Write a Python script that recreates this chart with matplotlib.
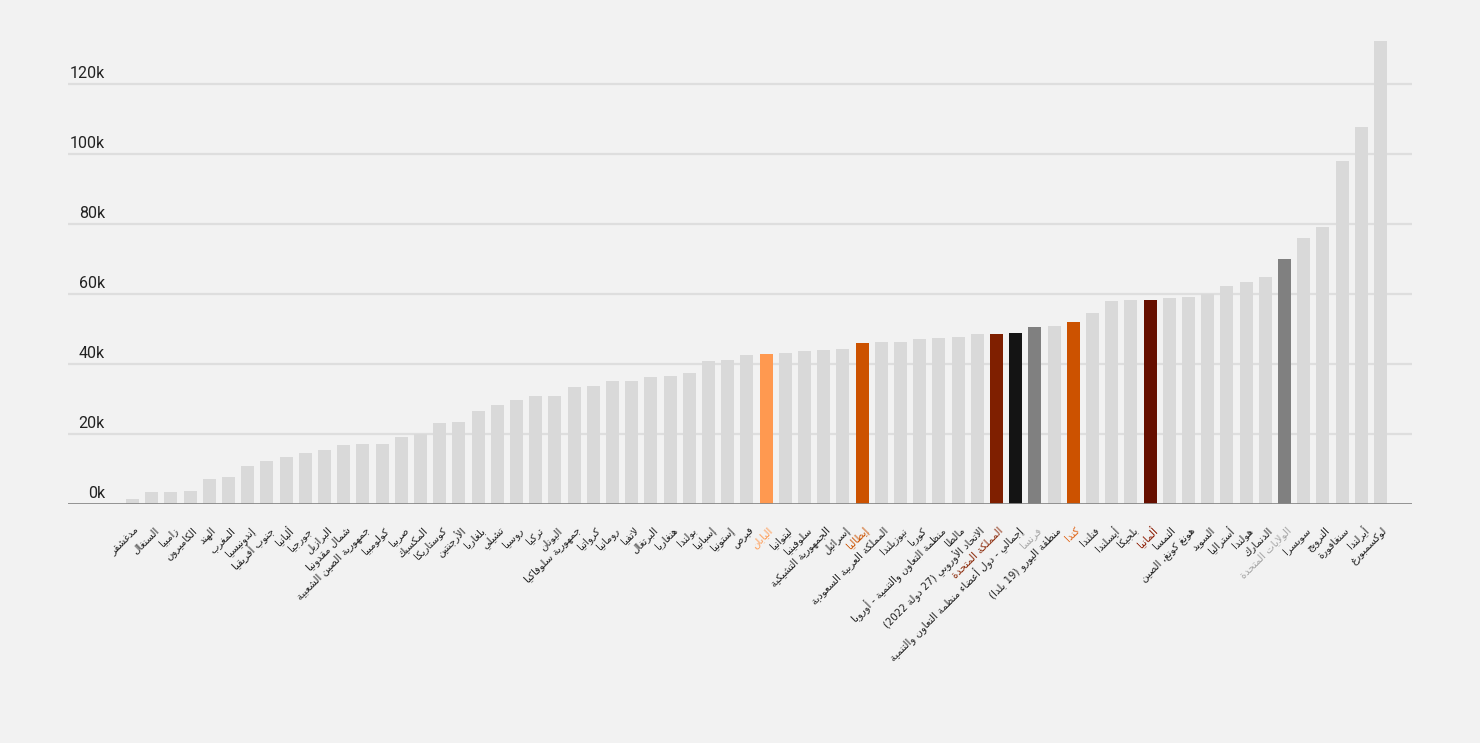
import matplotlib
matplotlib.use("Agg")
import matplotlib.pyplot as plt
import matplotlib.transforms as mtransforms

# GDP per capita (thousands), sorted ascending
countries = [
    "مدغشقر", "السنغال", "زامبيا", "الكاميرون", "الهند", "المغرب", "إندونيسيا",
    "جنوب أفريقيا", "ألبانيا", "جورجيا", "البرازيل", "شمال مقدونيا",
    "جمهورية الصين الشعبية", "كولومبيا", "صربيا", "المكسيك", "كوستاريكا",
    "الأرجنتين", "بلغاريا", "تشيلي", "روسيا", "تركيا", "اليونان",
    "جمهورية سلوفاكيا", "كرواتيا", "رومانيا", "لاتفيا", "البرتغال", "هنغاريا",
    "بولندا", "إسبانيا", "إستونيا", "قبرص", "اليابان", "ليتوانيا", "سلوفينيا",
    "الجمهورية التشيكية", "إسرائيل", "إيطاليا", "المملكة العربية السعودية",
    "نيوزيلندا", "كوريا", "منظمة التعاون والتنمية - أوروبا", "مالطا",
    "الاتحاد الأوروبي (27 دولة 2022)", "المملكة المتحدة",
    "إجمالي - دول أعضاء منظمة التعاون والتنمية", "فرنسا",
    "منطقة اليورو (19 بلدا)", "كندا", "فنلندا", "أيسلندا", "بلجيكا", "ألمانيا",
    "النمسا", "هونغ كونغ، الصين", "السويد", "أستراليا", "هولندا", "الدنمارك",
    "الولايات المتحدة", "سويسرا", "النرويج", "سنغافورة", "أيرلندا", "لوكسمبورغ",
]
values = [
    1.35, 3.35, 3.35, 3.6, 7.05, 7.6, 10.8, 12.2, 13.3, 14.5, 15.3, 16.8,
    17.1, 17.1, 19.1, 20.0, 23.1, 23.35, 26.5, 28.2, 29.6, 30.8, 30.8, 33.3,
    33.6, 35.1, 35.1, 36.2, 36.5, 37.3, 40.8, 41.1, 42.5, 42.8, 43.1, 43.6,
    43.9, 44.2, 45.9, 46.2, 46.2, 47.1, 47.3, 47.6, 48.5, 48.5, 48.8, 50.5,
    50.8, 51.9, 54.5, 57.9, 58.2, 58.2, 58.8, 59.1, 59.9, 62.2, 63.3, 64.8,
    69.9, 75.9, 79.1, 97.9, 107.6, 132.2,
]
y_ticks = [0, 20, 40, 60, 80, 100, 120]

# highlight colours (bar, label)
highlight = {
    "اليابان": ("#ff9950", "#ff9950"),
    "إيطاليا": ("#cc5200", "#cc5200"),
    "المملكة المتحدة": ("#7f1f00", "#8b2a0a"),
    "إجمالي - دول أعضاء منظمة التعاون والتنمية": ("#141414", "#222222"),
    "فرنسا": ("#808080", "#a6a6a6"),
    "كندا": ("#cc5200", "#e06010"),
    "ألمانيا": ("#660f00", "#8b1a00"),
    "الولايات المتحدة": ("#808080", "#a6a6a6"),
}
base_bar = "#d9d9d9"
base_label = "#222222"

# --- minimal Arabic shaping (matplotlib has no complex text layout) ---
_dual = {
    "ئ": 0xFE89, "ب": 0xFE8F, "ت": 0xFE95, "ث": 0xFE99, "ج": 0xFE9D,
    "ح": 0xFEA1, "خ": 0xFEA5, "س": 0xFEB1, "ش": 0xFEB5, "ص": 0xFEB9,
    "ض": 0xFEBD, "ط": 0xFEC1, "ظ": 0xFEC5, "ع": 0xFEC9, "غ": 0xFECD,
    "ف": 0xFED1, "ق": 0xFED5, "ك": 0xFED9, "ل": 0xFEDD, "م": 0xFEE1,
    "ن": 0xFEE5, "ه": 0xFEE9, "ي": 0xFEF1,
}
_right = {
    "آ": 0xFE81, "أ": 0xFE83, "ؤ": 0xFE85, "إ": 0xFE87, "ا": 0xFE8D,
    "ة": 0xFE93, "د": 0xFEA9, "ذ": 0xFEAB, "ر": 0xFEAD, "ز": 0xFEAF,
    "و": 0xFEED, "ى": 0xFEEF,
}
_lamalef = {"آ": 0xFEF5, "أ": 0xFEF7, "إ": 0xFEF9, "ا": 0xFEFB}


def shape(s):
    chars = list(s)
    out = []
    i = 0
    prev_joins = False
    while i < len(chars):
        c = chars[i]
        nxt = chars[i + 1] if i + 1 < len(chars) else ""
        if c == "ل" and nxt in _lamalef:
            code = _lamalef[nxt] + (1 if prev_joins else 0)
            out.append(chr(code))
            prev_joins = False
            i += 2
            continue
        if c in _dual:
            b = _dual[c]
            next_join = nxt in _dual or nxt in _right
            if prev_joins and next_join:
                code = b + 3
            elif prev_joins:
                code = b + 1
            elif next_join:
                code = b + 2
            else:
                code = b
            out.append(chr(code))
            prev_joins = next_join
        elif c in _right:
            out.append(chr(_right[c] + (1 if prev_joins else 0)))
            prev_joins = False
        else:
            out.append(c)
            prev_joins = False
        i += 1
    # visual order: reverse, keep digit runs LTR, mirror brackets
    vis = "".join(out)[::-1]
    res, run = [], ""
    for ch in vis:
        if ch.isdigit():
            run += ch
        else:
            if run:
                res.append(run[::-1])
                run = ""
            res.append({"(": ")", ")": "("}.get(ch, ch))
    if run:
        res.append(run[::-1])
    return "".join(res)


plt.rcParams["font.family"] = ["DejaVu Sans"]

fig = plt.figure(figsize=(14.8, 7.43), dpi=100, facecolor="#f2f2f2")
ax = fig.add_axes([68 / 1480, 1 - 503.7 / 743, 1344 / 1480, (503.7 - 30) / 743])
ax.set_facecolor("#f2f2f2")

x = list(range(len(countries)))
bar_colors = [highlight.get(c, (base_bar, base_label))[0] for c in countries]
ax.bar(x, values, width=0.68, color=bar_colors, zorder=3)

ax.set_xlim(-3.36, len(countries) - 1 + 1.64)
ax.set_ylim(0, (503.7 - 30) / 3.5)

for t in y_ticks:
    if t > 0:
        ax.axhline(t, color="#dedede", linewidth=1.6, zorder=1)
    ax.annotate(f"{t}k", xy=(0.0275, t), xycoords=("axes fraction", "data"),
                xytext=(0, 2), textcoords="offset points", ha="right",
                va="bottom", fontsize=11.5, color="#222222", family="Roboto")
ax.axhline(0, color="#8a8a8a", linewidth=2, zorder=4)

for s in ax.spines.values():
    s.set_visible(False)
ax.set_xticks([])
ax.set_yticks([])

offset = mtransforms.offset_copy(ax.transData, fig=fig, x=5, y=-25, units="dots")
for xi, c in zip(x, countries):
    col = highlight.get(c, (base_bar, base_label))[1]
    ax.text(xi, 0, shape(c), transform=offset, rotation=45,
            rotation_mode="anchor", ha="right", va="center",
            fontsize=7.3, color=col, clip_on=False)

fig.savefig("out.png", dpi=100, facecolor=fig.get_facecolor())
